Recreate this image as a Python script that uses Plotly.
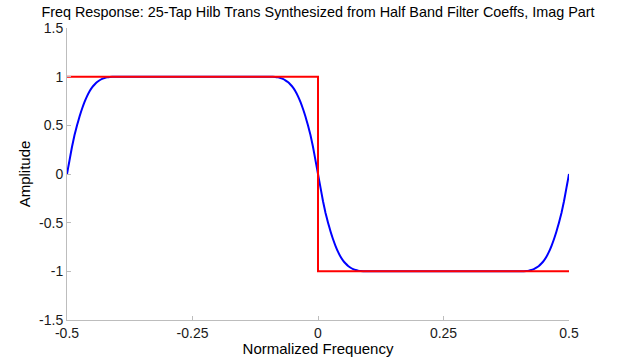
import plotly.graph_objects as go

# Blue curve: imaginary part of the 25-tap Hilbert transformer
freq = [-0.5, -0.4975, -0.495, -0.49, -0.485, -0.48, -0.475, -0.47, -0.465, -0.46, -0.455,
        -0.45, -0.445, -0.44, -0.435, -0.43, -0.425, -0.42, -0.415, -0.41, -0.40, -0.35,
        -0.30, -0.25, -0.20, -0.15, -0.10, -0.09, -0.085, -0.08, -0.075, -0.07, -0.065,
        -0.06, -0.055, -0.05, -0.045, -0.04, -0.035, -0.03, -0.025, -0.02, -0.015,
        -0.01, -0.005, 0.0,
        0.005, 0.01, 0.015, 0.02, 0.025, 0.03, 0.035, 0.04, 0.045, 0.05,
        0.055, 0.06, 0.065, 0.07, 0.075, 0.08, 0.085, 0.09, 0.10, 0.15, 0.20,
        0.25, 0.30, 0.35, 0.40, 0.41, 0.415, 0.42, 0.425, 0.43, 0.435, 0.44,
        0.445, 0.45, 0.455, 0.46, 0.465, 0.47, 0.475, 0.48, 0.485, 0.49,
        0.495, 0.4975, 0.5]
imag_part = [0.0, 0.07, 0.14, 0.28, 0.40, 0.50, 0.59, 0.67, 0.74, 0.80, 0.85,
             0.89, 0.92, 0.945, 0.963, 0.977, 0.987, 0.993, 0.997, 0.999, 1.0, 1.0,
             1.0, 1.0, 1.0, 1.0, 1.0, 0.999, 0.997, 0.993, 0.987, 0.977, 0.963,
             0.945, 0.92, 0.89, 0.85, 0.80, 0.74, 0.67, 0.59, 0.50, 0.40,
             0.28, 0.14, 0.0,
             -0.14, -0.28, -0.40, -0.50, -0.59, -0.67, -0.74, -0.80, -0.85, -0.89,
             -0.92, -0.945, -0.963, -0.977, -0.987, -0.993, -0.997, -0.999, -1.0, -1.0, -1.0,
             -1.0, -1.0, -1.0, -1.0, -0.999, -0.997, -0.993, -0.987, -0.977, -0.963, -0.945,
             -0.92, -0.89, -0.85, -0.80, -0.74, -0.67, -0.59, -0.50, -0.40, -0.28,
             -0.14, -0.07, 0.0]

# Red ideal response
ideal_freq = [-0.5, 0.0, 0.0, 0.5]
ideal_resp = [1, 1, -1, -1]

x_ticks = [-0.5, -0.25, 0, 0.25, 0.5]
x_labels = ["-0.5", "-0.25", "0", "0.25", "0.5"]
y_ticks = [-1.5, -1, -0.5, 0, 0.5, 1, 1.5]
y_labels = ["-1.5", "-1", "-0.5", "0", "0.5", "1", "1.5"]

FONT = "Liberation Sans, Arial, sans-serif"
AX = "#bdbdbd"

fig = go.Figure()
fig.add_trace(go.Scatter(x=freq, y=imag_part, mode="lines",
                         line=dict(color="#0000ff", width=2, shape="spline", smoothing=0.4),
                         showlegend=False, hoverinfo="skip"))
fig.add_trace(go.Scatter(x=ideal_freq, y=ideal_resp, mode="lines",
                         line=dict(color="#ff0000", width=2),
                         showlegend=False, hoverinfo="skip"))

fig.update_layout(
    width=636, height=357,
    margin=dict(l=67, r=67, t=28, b=37, autoexpand=False),
    paper_bgcolor="white", plot_bgcolor="white",
    font=dict(family=FONT, size=14, color="#1a1a1a"),
    title=dict(text="Freq Response: 25-Tap Hilb Trans Synthesized from Half Band Filter Coeffs, Imag Part",
               x=0.5, xanchor="center", y=1 - 12 / 357, yanchor="middle",
               font=dict(family=FONT, size=14.4, color="#000000")),
    xaxis=dict(range=[-0.5, 0.5], tickvals=x_ticks, ticktext=x_labels,
               showgrid=False, zeroline=False, showline=True, linecolor=AX, linewidth=1,
               ticks="inside", ticklen=4, tickcolor=AX, mirror=False,
               title=dict(text="Normalized Frequency", standoff=1,
                          font=dict(family=FONT, size=15, color="#000000"))),
    yaxis=dict(range=[-1.5, 1.5], tickvals=y_ticks, ticktext=y_labels,
               showgrid=False, zeroline=False, showline=True, linecolor=AX, linewidth=1,
               ticks="inside", ticklen=4, tickcolor=AX, mirror=False,
               title=dict(text="Amplitude", standoff=4,
                          font=dict(family=FONT, size=15, color="#000000"))),
)

fig.write_html("out.html")
